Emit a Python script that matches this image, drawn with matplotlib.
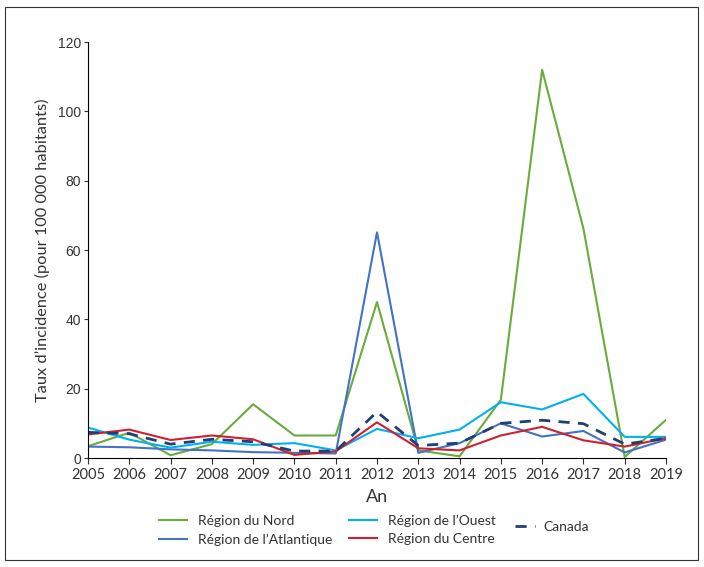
import matplotlib.pyplot as plt
from matplotlib.patches import Rectangle

plt.rcParams['font.family'] = ['Lato', 'DejaVu Sans']
plt.rcParams['text.color'] = '#333333'
plt.rcParams['axes.labelcolor'] = '#333333'

years = list(range(2005, 2020))
nord = [3.4, 7.3, 0.8, 4.0, 15.5, 6.5, 6.5, 45.0, 2.2, 0.5, 16.8, 112.0, 66.2, 0.3, 11.0]
atlantique = [3.3, 3.1, 2.5, 2.2, 1.7, 1.5, 1.3, 65.1, 1.5, 4.3, 10.0, 6.2, 7.8, 1.6, 5.3]
ouest = [8.8, 5.3, 3.0, 4.7, 3.8, 4.3, 2.2, 8.4, 5.7, 8.2, 16.1, 14.0, 18.5, 6.1, 6.1]
centre = [6.8, 8.2, 5.2, 6.5, 5.4, 0.9, 1.9, 10.3, 2.8, 2.2, 6.5, 9.0, 5.1, 3.3, 5.7]
canada = [7.4, 7.0, 4.0, 5.4, 4.7, 2.0, 2.0, 13.3, 3.6, 4.3, 10.0, 10.9, 9.9, 4.0, 5.7]

fig = plt.figure(figsize=(7.04, 5.67), dpi=100)
ax = fig.add_axes([0.125, 0.1922, 0.821, 0.7337])

# outer frame around the whole figure
fig.patches.append(Rectangle((0.007, 0.012), 0.985, 0.976, transform=fig.transFigure,
                             fill=False, edgecolor='#333333', linewidth=0.8))

l_nord, = ax.plot(years, nord, color='#6aab3d', lw=1.5, label='Région du Nord')
l_atl, = ax.plot(years, atlantique, color='#4472c4', lw=1.5, label="Région de l\u2019Atlantique")
l_ouest, = ax.plot(years, ouest, color='#00b0f0', lw=1.5, label="Région de l\u2019Ouest")
l_centre, = ax.plot(years, centre, color='#d0202e', lw=1.5, label='Région du Centre')
l_can, = ax.plot(years, canada, color='#203f73', lw=2, ls=(0, (4, 3)), label='Canada')

ax.set_xlim(2005, 2019)
ax.set_ylim(0, 120)
ax.set_xticks(years)
ax.set_yticks(range(0, 121, 20))
for s in ['top', 'right']:
    ax.spines[s].set_visible(False)
ax.tick_params(axis='x', labelsize=10.5, length=4, color='#333333', labelcolor='#333333')
ax.tick_params(axis='y', labelsize=10, length=3, color='#333333', labelcolor='#333333', pad=2)
for t in ax.get_yticklabels():
    t.set_family('Liberation Sans')
ax.set_xlabel('An', fontsize=13, labelpad=5)
ax.set_ylabel('Taux d\u2019incidence (pour 100 000 habitants)', fontsize=11.8)
ax.yaxis.set_label_coords(-0.066, 0.5)

fig.legend([l_nord, l_atl, l_ouest, l_centre],
           [l.get_label() for l in [l_nord, l_atl, l_ouest, l_centre]],
           ncol=2, frameon=False, fontsize=10, loc='center left',
           bbox_to_anchor=(0.226, 0.065), handlelength=2.0, handletextpad=0.8,
           columnspacing=1.2, labelspacing=0.45, borderpad=0, borderaxespad=0)
fig.legend([l_can], ['Canada'], frameon=False, fontsize=10, loc='center left',
           bbox_to_anchor=(0.731, 0.071), handlelength=1.5, handletextpad=0.6,
           borderpad=0, borderaxespad=0)

fig.savefig('out.png', dpi=100)
